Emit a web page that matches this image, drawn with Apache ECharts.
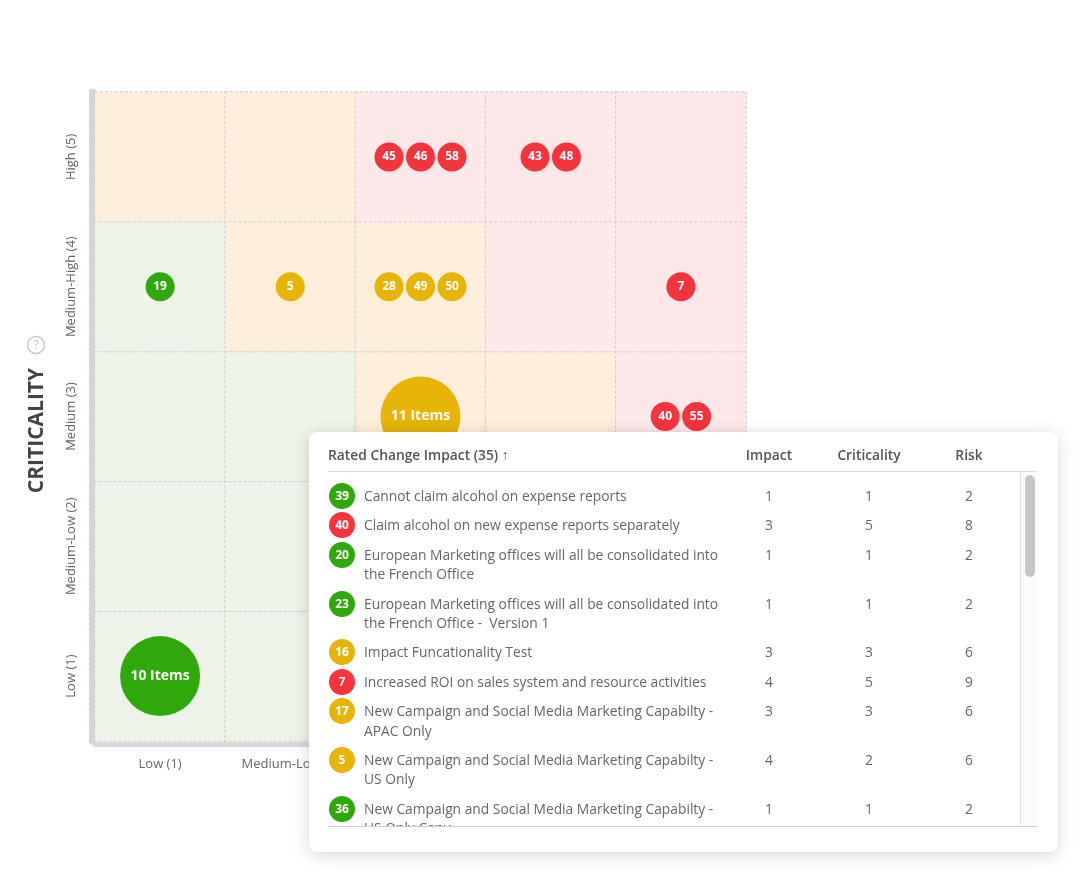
<!DOCTYPE html>
<html>
<head>
<meta charset="utf-8">
<script src="https://cdn.jsdelivr.net/npm/echarts@6/dist/echarts.min.js"></script>
<style>
  html, body { margin: 0; padding: 0; background: #fff; }
  #chart { position: absolute; left: 0; top: 0; width: 1080px; height: 875px; }
  #panel {
    position: absolute; left: 309px; top: 432px; width: 749px; height: 420px;
    background: #fff; border-radius: 8px;
    box-shadow: 0 3px 18px rgba(0,0,0,0.16), 0 0 3px rgba(0,0,0,0.06);
    font-family: 'Open Sans', sans-serif; color: #666; font-size: 13.8px;
  }
  #head {
    position: absolute; left: 19px; top: 12px; width: 709px; height: 27px;
    border-bottom: 1px solid #dcdcdc; font-weight: 600; color: #555; line-height: 22px;
  }
  #head .c { position: absolute; top: 0; width: 100px; text-align: center; }
  #body {
    position: absolute; left: 19px; top: 40px; width: 709px; height: 354px;
    overflow: hidden; border-bottom: 1px solid #cfcfcf;
  }
  #rows { position: absolute; left: 0; top: 9px; width: 692px; }
  .row { position: relative; padding: 5px 0; line-height: 19.4px; }
  .badge {
    position: absolute; left: 1px; width: 26px; height: 26px; border-radius: 13px;
    color: #fff; font-weight: 700; font-size: 12px; line-height: 26px; text-align: center;
    top: 2px;
  }
  .name { margin-left: 36px; width: 360px; white-space: pre; }
  .num { position: absolute; top: 5px; width: 100px; text-align: center; }
  #track {
    position: absolute; right: 0; top: 0; width: 16px; height: 354px;
    border-left: 1px solid #e6e6e6; background: #fbfbfb;
  }
  #thumb {
    position: absolute; left: 4px; top: 3px; width: 10px; height: 102px;
    border-radius: 5px; background: #c6c6c6;
  }
</style>
</head>
<body>
<div id="chart"></div>
<div id="panel">
  <div id="head"></div>
  <div id="body"><div id="rows"></div><div id="track"><div id="thumb"></div></div></div>
</div>
<script>
// ---------------- data ----------------
const xCategories = ['Low (1)', 'Medium-Low (2)', 'Medium (3)', 'Medium-High (4)', 'High (5)'];
const yCategories = ['Low (1)', 'Medium-Low (2)', 'Medium (3)', 'Medium-High (4)', 'High (5)'];
const yAxisTitle = 'CRITICALITY';

// cell zones, rows from Low (1) up to High (5), columns Low (1) .. High (5)
const cellZones = [
  ['low', 'low', 'low', 'low', 'mid'],
  ['low', 'low', 'low', 'mid', 'mid'],
  ['low', 'low', 'mid', 'mid', 'high'],
  ['low', 'mid', 'mid', 'high', 'high'],
  ['mid', 'mid', 'high', 'high', 'high']
];

// bubbles in the matrix (x / y are category indexes)
const itemLabels = ['45', '46', '58', '43', '48', '19', '5', '28', '49', '50', '7', '11 Items', '40', '55', '10 Items'];
const itemX      = [2, 2, 2, 3, 3, 0, 1, 2, 2, 2, 4, 2, 4, 4, 0];
const itemY      = [4, 4, 4, 4, 4, 3, 3, 3, 3, 3, 3, 2, 2, 2, 0];
const itemCount  = [1, 1, 1, 1, 1, 1, 1, 1, 1, 1, 1, 11, 1, 1, 10];
const itemZone   = ['high', 'high', 'high', 'high', 'high', 'low', 'mid', 'mid', 'mid', 'mid', 'high', 'mid', 'high', 'high', 'low'];

// table
const tableTitle = 'Rated Change Impact (35) \u2191';
const tableColumns = ['Impact', 'Criticality', 'Risk'];
const tableIds = [39, 40, 20, 23, 16, 7, 17, 5, 36];
const tableNames = [
  'Cannot claim alcohol on expense reports',
  'Claim alcohol on new expense reports separately',
  'European Marketing offices will all be consolidated into\nthe French Office',
  'European Marketing offices will all be consolidated into\nthe French Office -  Version 1',
  'Impact Funcationality Test',
  'Increased ROI on sales system and resource activities',
  'New Campaign and Social Media Marketing Capabilty -\nAPAC Only',
  'New Campaign and Social Media Marketing Capabilty -\nUS Only',
  'New Campaign and Social Media Marketing Capabilty -\nUS Only Copy'
];
const tableImpact      = [1, 3, 1, 1, 3, 4, 3, 4, 1];
const tableCriticality = [1, 5, 1, 1, 3, 5, 3, 2, 1];
const tableRisk        = [2, 8, 2, 2, 6, 9, 6, 6, 2];
const tableZone        = ['low', 'high', 'low', 'low', 'mid', 'high', 'mid', 'mid', 'low'];

// ---------------- styles ----------------
const cellColors = { low: '#eef3ea', mid: '#fdeedb', high: '#fce7e9' };
const dotColors  = { low: '#2fa80c', mid: '#e7b407', high: '#f5333d' };
const zoneLevel  = { low: 0, mid: 1, high: 2 };
const FONT = "'Open Sans', sans-serif";

// heatmap cells
const cellData = [];
cellZones.forEach((row, yi) => row.forEach((z, xi) => cellData.push([xi, yi, zoneLevel[z]])));

// scatter bubbles, spread side by side when sharing a cell
const spacing = 31.5;
const bubbleData = itemLabels.map((lab, i) => {
  const same = [];
  itemLabels.forEach((l, j) => { if (itemX[j] === itemX[i] && itemY[j] === itemY[i]) same.push(j); });
  const k = same.indexOf(i);
  const off = (k - (same.length - 1) / 2) * spacing;
  const big = itemCount[i] > 1;
  return {
    name: lab,
    value: [itemX[i], itemY[i]],
    symbolSize: big ? 80 : 29,
    symbolOffset: [off, 0],
    itemStyle: { color: dotColors[itemZone[i]], opacity: 1 },
    label: { fontSize: big ? 14 : 12 }
  };
});

const chart = echarts.init(document.getElementById('chart'), null, { renderer: 'canvas' });
chart.setOption({
  animation: false,
  textStyle: { fontFamily: FONT },
  grid: { left: 95, top: 92, right: 334, bottom: 134 },
  visualMap: {
    show: false, type: 'piecewise', seriesIndex: 0, dimension: 2,
    pieces: [
      { value: 0, color: cellColors.low },
      { value: 1, color: cellColors.mid },
      { value: 2, color: cellColors.high }
    ]
  },
  graphic: [{
    type: 'group', left: 25, top: 334, silent: true,
    children: [
      { type: 'circle', shape: { cx: 9, cy: 9, r: 8.5 }, style: { fill: 'none', stroke: '#c8c8c8', lineWidth: 1.5 } },
      { type: 'text', x: 9, y: 9.5, style: { text: '?', fill: '#bdbdbd', fontSize: 12, fontFamily: FONT, align: 'center', verticalAlign: 'middle' } }
    ]
  }],
  xAxis: {
    type: 'category', data: xCategories, boundaryGap: true, offset: 3,
    axisLine: { show: true, lineStyle: { color: '#d9d9d9', width: 5 } },
    axisTick: { show: false }, splitLine: { show: false },
    axisLabel: { color: '#666', fontSize: 13, margin: 14, interval: 0, fontFamily: FONT }
  },
  yAxis: {
    type: 'category', data: yCategories, boundaryGap: true, offset: 3,
    axisLine: { show: true, lineStyle: { color: '#d6d6d6', width: 7 } },
    axisTick: { show: false }, splitLine: { show: false },
    axisLabel: { color: '#666', fontSize: 13, rotate: 90, margin: 14, interval: 0, fontFamily: FONT },
    name: yAxisTitle + '{g|}',
    nameLocation: 'middle', nameRotate: 90, nameGap: 44,
    nameTextStyle: {
      color: '#444', fontSize: 21, fontWeight: 'bold', fontFamily: FONT,
      rich: { g: { width: 28 } }
    }
  },
  series: [
    {
      type: 'heatmap', data: cellData, silent: true,
      itemStyle: { borderColor: '#c9ccd0', borderWidth: 1, borderType: [3, 2] },
      emphasis: { disabled: true }
    },
    {
      type: 'scatter', data: bubbleData, symbol: 'circle', silent: true, z: 3,
      label: {
        show: true, position: 'inside', formatter: '{b}',
        color: '#fff', fontWeight: 'bold', fontFamily: FONT
      }
    }
  ]
});

// ---------------- table ----------------
const colCenters = [441, 541, 641]; // relative to head/body left edge
const head = document.getElementById('head');
head.innerHTML = '<span>' + tableTitle + '</span>' +
  tableColumns.map((c, i) => '<span class="c" style="left:' + (colCenters[i] - 50) + 'px">' + c + '</span>').join('');
const rows = document.getElementById('rows');
rows.innerHTML = tableIds.map((id, i) =>
  '<div class="row">' +
    '<div class="badge" style="background:' + dotColors[tableZone[i]] + '">' + id + '</div>' +
    '<div class="name">' + tableNames[i] + '</div>' +
    [tableImpact[i], tableCriticality[i], tableRisk[i]].map((v, k) =>
      '<div class="num" style="left:' + (colCenters[k] - 50) + 'px">' + v + '</div>').join('') +
  '</div>'
).join('');
</script>
</body>
</html>
